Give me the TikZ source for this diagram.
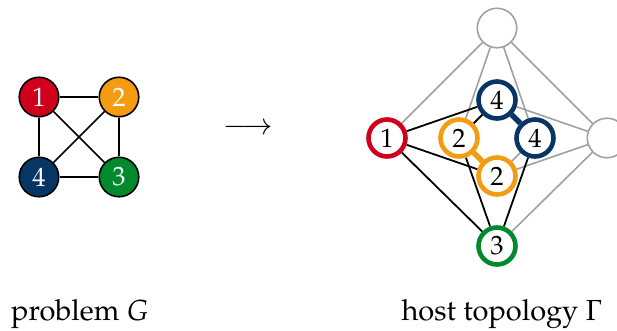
\documentclass[tikz,border=0pt]{standalone}
\usepackage[T1]{fontenc}
\usepackage{mathpazo}
\usetikzlibrary{backgrounds}
\definecolor{qred}{RGB}{208,0,28}
\definecolor{qorange}{RGB}{243,156,18}
\definecolor{qblue}{RGB}{8,54,100}
\definecolor{qgreen}{RGB}{0,138,44}
\definecolor{qgray}{RGB}{160,160,160}
\tikzset{
  pnode/.style={circle, draw=black, line width=1.6pt, minimum size=39.5pt,
    inner sep=0pt, text=white, font=\fontsize{26.5}{26.5}\selectfont},
  hnode/.style={circle, draw=#1, line width=4.6pt, minimum size=37pt,
    inner sep=0pt, fill=white, font=\fontsize{26.5}{26.5}\selectfont},
  gnode/.style={circle, draw=qgray, line width=1.6pt, minimum size=39.5pt,
    inner sep=0pt, fill=white},
  pedge/.style={draw=black, line width=1.6pt},
  used/.style={draw=black, line width=1.8pt},
  unused/.style={draw=qgray, line width=1.6pt},
  chain/.style={draw=#1, line width=5.5pt},
  caption/.style={font=\fontsize{29}{29}\selectfont, anchor=base, inner sep=0pt}
}
\begin{document}
\begin{tikzpicture}[x=1pt, y=-1pt]
  \useasboundingbox (0,0) rectangle (617,330);

  % problem graph G (a K4)
  \node[pnode, fill=qred]    (p1) at (39,97)  {1};
  \node[pnode, fill=qorange] (p2) at (119,97) {2};
  \node[pnode, fill=qgreen]  (p3) at (119,177) {3};
  \node[pnode, fill=qblue]   (p4) at (39,177) {4};
  \begin{scope}[on background layer]
    \draw[pedge] (p1) -- (p2);
    \draw[pedge] (p2) -- (p3);
    \draw[pedge] (p3) -- (p4);
    \draw[pedge] (p4) -- (p1);
    \draw[pedge] (p1) -- (p3);
    \draw[pedge] (p2) -- (p4);
  \end{scope}

  % mapping arrow
  \node[inner sep=0pt, font=\fontsize{29}{29}\selectfont] (arr) at (248,129) {$\longrightarrow$};

  % host topology: outer vertices
  \node[gnode] (ht) at (497,28) {};
  \node[gnode] (hr) at (607,138) {};
  \node[hnode=qred]   (hl) at (387,138) {1};
  \node[hnode=qgreen] (hb) at (497,246) {3};
  % host topology: inner square
  \node[hnode=qblue]   (ha) at (497,100) {4};
  \node[hnode=qblue]   (hbb) at (535,138) {4};
  \node[hnode=qorange] (hc) at (497,176) {2};
  \node[hnode=qorange] (hd) at (459,138) {2};

  \begin{scope}[on background layer]
    % couplers left unused
    \draw[unused] (ht) -- (hl);
    \draw[unused] (ht) -- (hr);
    \draw[unused] (ht) -- (hd);
    \draw[unused] (ht) -- (hbb);
    \draw[unused] (hr) -- (ha);
    \draw[unused] (hr) -- (hc);
    \draw[unused] (hr) -- (hb);
    \draw[unused] (hbb) -- (hc);
    % couplers carrying problem edges
    \draw[used] (hl) -- (ha);
    \draw[used] (hl) -- (hc);
    \draw[used] (hl) -- (hb);
    \draw[used] (ha) -- (hd);
    \draw[used] (hb) -- (hd);
    \draw[used] (hb) -- (hbb);
    % chains
    \draw[chain=qblue] (ha) -- (hbb);
    \draw[chain=qorange] (hd) -- (hc);
  \end{scope}

  % captions
  \node[caption] (cg) at (80,320) {problem $G$};
  \node[caption] (ch) at (502,320) {host topology $\Gamma$};
\end{tikzpicture}
\end{document}
